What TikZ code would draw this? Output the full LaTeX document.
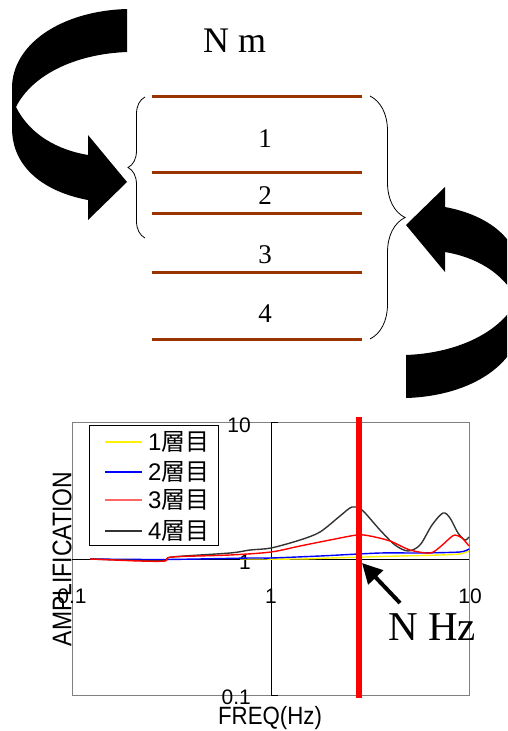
\documentclass[tikz,border=0pt]{standalone}
\usepackage{fontspec}
\setmainfont{Liberation Serif}
\newfontfamily\arialfont{Liberation Sans}
\newfontfamily\cjkfont{Noto Sans CJK JP}
\usetikzlibrary{arrows.meta,decorations.pathreplacing}

\definecolor{floorbrown}{RGB}{153,51,0}
\definecolor{curvegray}{RGB}{51,51,51}

\tikzset{
    floorline/.style={floorbrown, line width=3pt},
    floornum/.style={anchor=base, inner sep=0pt, font=\fontsize{27}{27}\selectfont},
    floorbrace/.style={decorate, line width=0.8pt},
    ampcurve/.style={line width=1.4pt, line join=round},
    ticklabel/.style={inner sep=0pt, font=\arialfont\fontsize{21}{21}\selectfont},
    legendtext/.style={anchor=west, inner sep=0pt, font=\fontsize{24}{24}\selectfont},
    bendarrow/.pic={
        \fill (127,9) .. controls (60,11) and (12,45) .. (12,88) -- (12,128)
            .. controls (12,168) and (45,192) .. (88,200) -- (88,220) -- (127,182)
            -- (88,135) -- (88,155) .. controls (58,150) and (30,135) .. (16,107)
            .. controls (32,75) and (75,54) .. (127,52) -- cycle;
    }
}

\begin{document}
\begin{tikzpicture}[x=1pt, y=-1pt]
    \useasboundingbox (0,0) rectangle (507,731);
    \clip (0,0) rectangle (507,731);

    % the two turning arrows
    \pic at (0,0) {bendarrow};
    \pic[rotate=180] at (533,407) {bendarrow};

    % building section
    \node[anchor=base west, inner sep=0pt, font=\fontsize{36}{36}\selectfont] (depth) at (203,52) {N m};

    \draw[floorline] (152,96) -- (362,96);
    \draw[floorline] (152,172) -- (362,172);
    \draw[floorline] (152,213) -- (362,213);
    \draw[floorline] (152,272) -- (362,272);
    \draw[floorline] (152,339) -- (362,339);

    \node[floornum] (floor1) at (265,147) {1};
    \node[floornum] (floor2) at (265,204) {2};
    \node[floornum] (floor3) at (265,263) {3};
    \node[floornum] (floor4) at (265,322) {4};

    \draw[floorbrace, decoration={brace, amplitude=17pt}] (145,238) -- (145,97);
    \draw[floorbrace, decoration={brace, amplitude=35pt}] (370,96) -- (370,339);

    % amplification chart
    \draw[gray, line width=1pt] (72,422) rectangle (469,695);
    \draw[black, line width=1pt] (271,422) -- (271,695);
    \draw[black, line width=1pt] (72,559) -- (469,559);
    \draw[black, line width=1pt] (271,422) -- (278,422);
    \draw[black, line width=1pt] (271,695) -- (278,695);

    \node[ticklabel, anchor=east] (y10) at (251,425) {10};
    \node[ticklabel, anchor=east] (y1) at (251,562) {1};
    \node[ticklabel, anchor=east] (y01) at (251,697) {0.1};
    \node[ticklabel] (x01) at (72,596) {0.1};
    \node[ticklabel] (x1) at (271,596) {1};
    \node[ticklabel] (x10) at (470,596) {10};

    \node[inner sep=0pt, font=\arialfont\fontsize{27}{27}\selectfont] (ylabel) at (62,559)
        {\rotatebox{90}{\scalebox{0.85}[1]{AMPLIFICATION}}};
    \node[inner sep=0pt, font=\arialfont\fontsize{25}{25}\selectfont] (xlabel) at (270,718)
        {\scalebox{0.89}[1]{FREQ(Hz)}};

    \draw[ampcurve, yellow] plot[smooth, tension=0.4] coordinates {
        (240,559) (300,559) (330,558) (400,556) (440,555) (460,554) (469,551)};
    \draw[ampcurve, blue] plot[smooth, tension=0.4] coordinates {
        (90,559) (165,559.5) (250,558) (271,558) (320,556) (380,553) (420,553) (460,552) (469,549)};
    \draw[ampcurve, curvegray] plot[smooth, tension=0.5] coordinates {
        (90,559) (140,560.5) (165,560.5) (172,557) (230,553) (250,550) (271,548) (300,540)
        (320,532) (340,516) (352,507) (362,510) (380,530) (395,545) (408,551) (420,545)
        (432,525) (443,513) (450,518) (458,533) (465,540) (469,537)};
    \draw[ampcurve, red] plot[smooth, tension=0.5] coordinates {
        (90,559) (140,561) (165,561) (172,557) (230,555) (271,552) (300,546) (330,540)
        (357,535) (370,536) (390,541) (410,550) (430,553) (440,547) (450,538) (455,535)
        (462,538) (469,546)};

    % legend
    \draw[black, line width=1pt, fill=white] (89,425) rectangle (218,545);
    \draw[ampcurve, yellow] (105,442) -- (142,442);
    \draw[ampcurve, blue] (105,472) -- (142,472);
    \draw[ampcurve, red!60] (105,500) -- (142,500);
    \draw[ampcurve, curvegray] (105,531) -- (142,531);
    \node[legendtext] (leg1) at (148,442) {\arialfont 1\cjkfont 層目};
    \node[legendtext] (leg2) at (148,472) {\arialfont 2\cjkfont 層目};
    \node[legendtext] (leg3) at (148,500) {\arialfont 3\cjkfont 層目};
    \node[legendtext] (leg4) at (148,531) {\arialfont 4\cjkfont 層目};

    % marked frequency
    \draw[red, line width=6pt] (359,417) -- (359,698);
    \node[anchor=base west, inner sep=0pt, font=\fontsize{41}{41}\selectfont] (freqlabel) at (388,640) {N Hz};
    \coordinate (hzfoot) at (400,603);
    \coordinate (hztip) at (362,563);
    \draw[line width=4pt, -{Triangle[length=20pt, width=20pt]}] (hzfoot) -- (hztip);
\end{tikzpicture}
\end{document}
